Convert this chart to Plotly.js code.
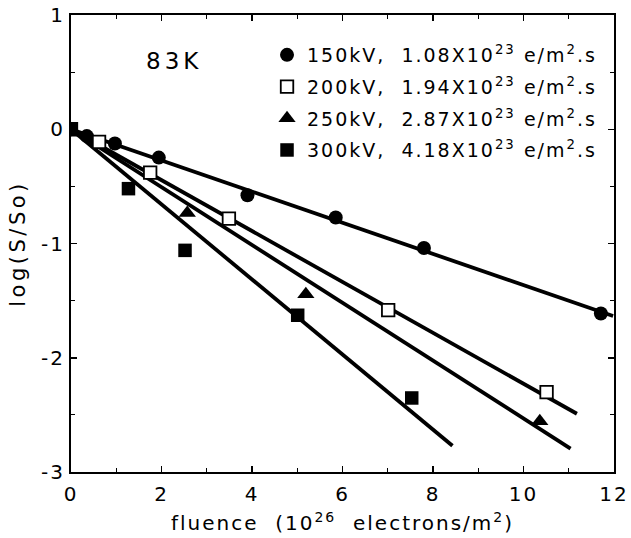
<!DOCTYPE html>
<html>
<head>
<meta charset="utf-8">
<script src="https://cdn.plot.ly/plotly-3.0.1.min.js"></script>
<style>
html, body { margin: 0; padding: 0; background: #fff; }
#chart { width: 631px; height: 538px; }
text { letter-spacing: 2px; }
text.legendtext { letter-spacing: 2px !important; }
text.ytitle { letter-spacing: 3.5px !important; }
text.annotation-text { letter-spacing: 4px !important; }
</style>
</head>
<body>
<div id="chart"></div>
<script>
// ---- data ----
const seriesNames = [
  "150kV,&nbsp;&nbsp;1.08X10<sup>23</sup>&nbsp;e/m<sup>2</sup>.s",
  "200kV,&nbsp;&nbsp;1.94X10<sup>23</sup>&nbsp;e/m<sup>2</sup>.s",
  "250kV,&nbsp;&nbsp;2.87X10<sup>23</sup>&nbsp;e/m<sup>2</sup>.s",
  "300kV,&nbsp;&nbsp;4.18X10<sup>23</sup>&nbsp;e/m<sup>2</sup>.s"
];
const fluence150 = [0, 0.35, 0.97, 1.94, 3.90, 5.85, 7.80, 11.71];
const logS150    = [0, -0.06, -0.125, -0.248, -0.578, -0.773, -1.039, -1.613];
const fluence200 = [0, 0.62, 1.75, 3.49, 7.01, 10.51];
const logS200    = [0, -0.11, -0.38, -0.782, -1.584, -2.30];
const fluence250 = [0, 2.57, 5.19, 10.36];
const logS250    = [0, -0.733, -1.444, -2.556];
const fluence300 = [0, 1.27, 2.52, 5.01, 7.53];
const logS300    = [0, -0.52, -1.06, -1.628, -2.352];

// fitted straight lines (start, end)
const fitX150 = [0, 11.98]; const fitY150 = [0, -1.634];
const fitX200 = [0, 11.18]; const fitY200 = [0, -2.49];
const fitX250 = [0, 11.04]; const fitY250 = [0, -2.795];
const fitX300 = [0, 8.43];  const fitY300 = [0, -2.77];

const xTickVals = [0, 2, 4, 6, 8, 10, 12];
const xTickText = ["0", "2", "4", "6", "8", "10", "12"];
const yTickVals = [-3, -2, -1, 0, 1];
const yTickText = ["-3", "-2", "-1", "0", "1"];
const tempLabel = "83K";
const xTitle = "fluence&nbsp;&nbsp;(10<sup>26</sup>&nbsp;&nbsp;electrons/m<sup>2</sup>)";
const yTitle = "log(S/So)";

// ---- styling ----
const FONT = "DejaVu Sans, Liberation Sans, Arial, sans-serif";
const lineStyle = {color: "#000", width: 3.8};

function fitTrace(x, y, grp) {
  return {x: x, y: y, mode: "lines", line: lineStyle, showlegend: false,
          legendgroup: grp, hoverinfo: "skip", type: "scatter"};
}
function pointTrace(x, y, name, grp, marker) {
  return {x: x, y: y, mode: "markers", name: name, legendgroup: grp,
          marker: marker, type: "scatter"};
}

const data = [
  fitTrace(fitX150, fitY150, "g1"),
  fitTrace(fitX200, fitY200, "g2"),
  fitTrace(fitX250, fitY250, "g3"),
  fitTrace(fitX300, fitY300, "g4"),
  pointTrace(fluence150, logS150, seriesNames[0], "g1",
    {symbol: "circle", size: 14, color: "#000", line: {width: 0}}),
  pointTrace(fluence200, logS200, seriesNames[1], "g2",
    {symbol: "square", size: 12.5, color: "#fff", line: {width: 1.8, color: "#000"}}),
  pointTrace(fluence250, logS250, seriesNames[2], "g3",
    {symbol: "triangle-up", size: 15, color: "#000", line: {width: 0}}),
  pointTrace(fluence300, logS300, seriesNames[3], "g4",
    {symbol: "square", size: 13.5, color: "#000", line: {width: 0}})
];

const axisCommon = {
  showgrid: false, zeroline: false,
  showline: true, linecolor: "#000", linewidth: 2, mirror: "allticks",
  ticks: "inside", ticklen: 6, tickwidth: 1.5, tickcolor: "#000",
  tickfont: {family: FONT, size: 20, color: "#000"},
  fixedrange: true
};

const layout = {
  width: 631, height: 538,
  margin: {l: 71, r: 17, t: 15, b: 66, autoexpand: false},
  paper_bgcolor: "#fff", plot_bgcolor: "#fff",
  font: {family: FONT, color: "#000"},
  showlegend: true,
  legend: {
    x: 0.361, y: 0.954, xanchor: "left", yanchor: "top",
    bgcolor: "rgba(0,0,0,0)", borderwidth: 0,
    font: {family: FONT, size: 19, color: "#000"},
    traceorder: "grouped", tracegroupgap: 4
  },
  xaxis: Object.assign({}, axisCommon, {
    range: [0, 12], tickmode: "array", tickvals: xTickVals, ticktext: xTickText,
    ticklabelstandoff: 3, automargin: false,
    minor: {dtick: 1, ticks: "inside", ticklen: 4, tickwidth: 1.2, tickcolor: "#000", showgrid: false},
    title: {text: xTitle, font: {family: FONT, size: 20, color: "#000"}, standoff: 11}
  }),
  yaxis: Object.assign({}, axisCommon, {
    range: [-3, 1], tickmode: "array", tickvals: yTickVals, ticktext: yTickText,
    automargin: false,
    minor: {dtick: 0.5, ticks: "inside", ticklen: 4, tickwidth: 1.2, tickcolor: "#000", showgrid: false},
    title: {text: yTitle, font: {family: FONT, size: 21, color: "#000"}, standoff: 10}
  }),
  annotations: [{
    x: 2.28, y: 0.595, xref: "x", yref: "y", text: tempLabel, showarrow: false,
    font: {family: FONT, size: 23, color: "#000"}
  }]
};

Plotly.newPlot("chart", data, layout, {displayModeBar: false, staticPlot: true});
</script>
</body>
</html>
